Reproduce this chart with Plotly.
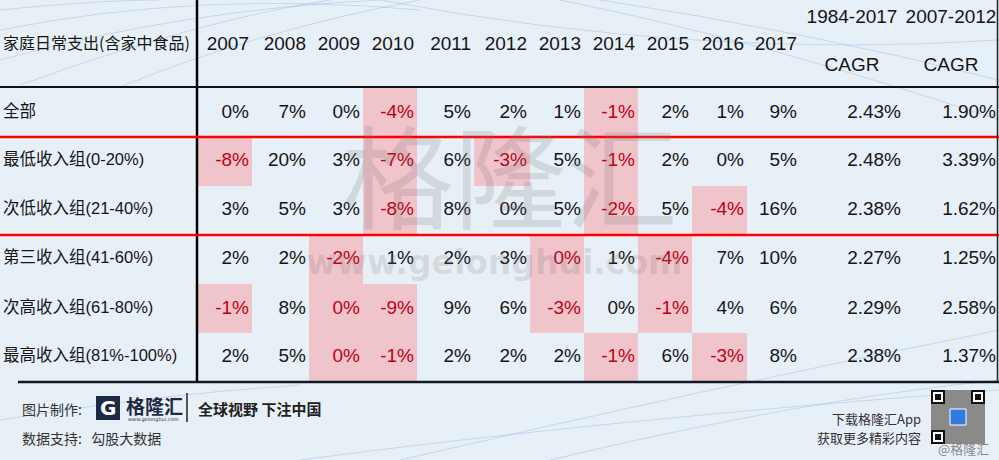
import plotly.graph_objects as go

# ---------------- data ----------------
header_label = "家庭日常支出(含家中食品)"
years = ["2007", "2008", "2009", "2010", "2011", "2012", "2013", "2014", "2015", "2016", "2017"]
cagr_periods = ["1984-2017", "2007-2012"]
cagr_label = "CAGR"
groups = ["全部", "最低收入组(0-20%)", "次低收入组(21-40%)", "第三收入组(41-60%)",
          "次高收入组(61-80%)", "最高收入组(81%-100%)"]

yoy_all = [0, 7, 0, -4, 5, 2, 1, -1, 2, 1, 9]
yoy_q1 = [-8, 20, 3, -7, 6, -3, 5, -1, 2, 0, 5]
yoy_q2 = [3, 5, 3, -8, 8, 0, 5, -2, 5, -4, 16]
yoy_q3 = [2, 2, -2, 1, 2, 3, 0, 1, -4, 7, 10]
yoy_q4 = [-1, 8, 0, -9, 9, 6, -3, 0, -1, 4, 6]
yoy_q5 = [2, 5, 0, -1, 2, 2, 2, -1, 6, -3, 8]

cagr_1984_2017 = [2.43, 2.48, 2.38, 2.27, 2.29, 2.38]
cagr_2007_2012 = [1.90, 3.39, 1.62, 1.25, 2.58, 1.37]

# cells flagged (pink) in the source
flag_all = [0, 0, 0, 1, 0, 0, 0, 1, 0, 0, 0]
flag_q1 = [1, 0, 0, 1, 0, 1, 0, 1, 0, 0, 0]
flag_q2 = [0, 0, 0, 1, 0, 0, 0, 1, 0, 1, 0]
flag_q3 = [0, 0, 1, 0, 0, 0, 1, 0, 1, 0, 0]
flag_q4 = [1, 0, 1, 1, 0, 0, 1, 0, 1, 0, 0]
flag_q5 = [0, 0, 1, 1, 0, 0, 0, 1, 0, 1, 0]

footer_make = "图片制作:"
footer_data = "数据支持:   勾股大数据"
brand = "格隆汇"
brand_url = "www.gelonghui.com"
slogan = "全球视野 下注中国"
app_line1 = "下载格隆汇App"
app_line2 = "获取更多精彩内容"
handle = "@格隆汇"

yoy_rows = [yoy_all, yoy_q1, yoy_q2, yoy_q3, yoy_q4, yoy_q5]
flag_rows = [flag_all, flag_q1, flag_q2, flag_q3, flag_q4, flag_q5]

# ---------------- layout constants ----------------
W, H = 999, 460
BG = "#e8f0f7"
PINK = "#f0c4cb"
RED_TXT = "#c00010"
BLACK_TXT = "#151515"
NUM_FONT = "Liberation Sans, Arial, Noto Sans CJK SC, sans-serif"
CJK_FONT = "Noto Sans CJK SC, sans-serif"
NUM_SIZE = 19

col_edges = [198, 252, 309, 363, 417, 474, 530, 584, 638, 692, 747, 800]  # year columns
cagr_right = [901, 996]
cagr_center = [852, 951]
row_edges = [87, 137, 186, 235, 284, 333, 382]
row_centers = [113, 161, 210, 259, 309, 357]
header_y = 45

fig = go.Figure()
shapes = []
annotations = []

# faint background swooshes
swoosh = [
    "M 0 30 Q 200 -10 420 10", "M 0 60 Q 180 10 380 0", "M 20 85 Q 200 20 330 0",
    "M 120 87 Q 260 30 420 0", "M 0 10 Q 100 0 160 0", "M 560 0 Q 760 40 999 120",
    "M 600 0 Q 800 30 999 80", "M 380 0 Q 700 60 999 40",
    "M 400 460 Q 700 390 999 330", "M 550 460 Q 800 400 999 380",
    "M 300 460 Q 600 420 999 390", "M 0 420 Q 150 395 300 385",
]
for p in swoosh:
    shapes.append(dict(type="path", path=p, line=dict(color="rgba(150,185,225,0.45)", width=1),
                       layer="below"))

# pink flagged cells
for r, flags in enumerate(flag_rows):
    for c, f in enumerate(flags):
        if f:
            shapes.append(dict(type="rect", x0=col_edges[c], x1=col_edges[c + 1],
                               y0=row_edges[r], y1=row_edges[r + 1],
                               fillcolor=PINK, line=dict(width=0), layer="below"))

# grid lines
shapes += [
    dict(type="line", x0=197, x1=197, y0=0, y1=383, line=dict(color="#000", width=2.5)),
    dict(type="line", x0=0, x1=999, y0=87, y1=87, line=dict(color="#111", width=2)),
    dict(type="line", x0=0, x1=999, y0=137, y1=137, line=dict(color="#ff0000", width=2.5)),
    dict(type="line", x0=0, x1=999, y0=235, y1=235, line=dict(color="#ff0000", width=2.5)),
    dict(type="line", x0=18, x1=999, y0=382, y1=382, line=dict(color="#111827", width=2.5)),
    dict(type="line", x0=997.5, x1=997.5, y0=0, y1=382, line=dict(color="#222", width=1.5)),
]

# header labels
fig.add_trace(go.Scatter(x=[3], y=[header_y], text=[header_label], mode="text",
                         textposition="middle right",
                         textfont=dict(family=CJK_FONT, size=16, color=BLACK_TXT),
                         hoverinfo="skip", showlegend=False))
fig.add_trace(go.Scatter(x=[e - 3 for e in col_edges[1:]], y=[header_y] * len(years), text=years,
                         mode="text", textposition="middle left",
                         textfont=dict(family=NUM_FONT, size=NUM_SIZE, color=BLACK_TXT),
                         hoverinfo="skip", showlegend=False))
fig.add_trace(go.Scatter(x=cagr_center, y=[18, 18], text=cagr_periods, mode="text",
                         textposition="middle center",
                         textfont=dict(family=NUM_FONT, size=NUM_SIZE, color=BLACK_TXT),
                         hoverinfo="skip", showlegend=False))
fig.add_trace(go.Scatter(x=cagr_center, y=[66, 66], text=[cagr_label, cagr_label], mode="text",
                         textposition="middle center",
                         textfont=dict(family=NUM_FONT, size=NUM_SIZE, color=BLACK_TXT),
                         hoverinfo="skip", showlegend=False))

# row labels
fig.add_trace(go.Scatter(x=[3] * len(groups), y=row_centers, text=groups, mode="text",
                         textposition="middle right",
                         textfont=dict(family=NUM_FONT, size=16.5, color=BLACK_TXT),
                         hoverinfo="skip", showlegend=False))

# yearly values, one trace per year column
for c in range(len(years)):
    vals = [row[c] for row in yoy_rows]
    cols = [RED_TXT if flag_rows[r][c] else BLACK_TXT for r in range(len(yoy_rows))]
    fig.add_trace(go.Scatter(x=[col_edges[c + 1] - 3] * len(vals), y=row_centers,
                             text=[f"{v}%" for v in vals], mode="text",
                             textposition="middle left",
                             textfont=dict(family=NUM_FONT, size=NUM_SIZE, color=cols),
                             hoverinfo="skip", showlegend=False))

# CAGR columns
for k, series in enumerate([cagr_1984_2017, cagr_2007_2012]):
    fig.add_trace(go.Scatter(x=[cagr_right[k]] * len(series), y=row_centers,
                             text=[f"{v:.2f}%" for v in series], mode="text",
                             textposition="middle left",
                             textfont=dict(family=NUM_FONT, size=NUM_SIZE, color=BLACK_TXT),
                             hoverinfo="skip", showlegend=False))

# watermark
annotations.append(dict(x=510, y=172, text=brand, showarrow=False, xanchor="center", yanchor="middle",
                        font=dict(family=CJK_FONT, size=112, color="rgba(120,120,120,0.2)")))
annotations.append(dict(x=494, y=262, text=f"<b>{brand_url}</b>", showarrow=False,
                        xanchor="center", yanchor="middle",
                        font=dict(family="DejaVu Sans, sans-serif", size=33,
                                  color="rgba(120,120,120,0.2)")))

# footer
annotations += [
    dict(x=20, y=409, text=footer_make, showarrow=False, xanchor="left", yanchor="middle",
         font=dict(family=CJK_FONT, size=14, color="#333")),
    dict(x=20, y=438, text=footer_data, showarrow=False, xanchor="left", yanchor="middle",
         font=dict(family=CJK_FONT, size=14, color="#333")),
    dict(x=124, y=405, text=f"<b>{brand}</b>", showarrow=False, xanchor="left", yanchor="middle",
         font=dict(family=CJK_FONT, size=19, color="#1d2a44")),
    dict(x=126, y=419, text=brand_url, showarrow=False, xanchor="left", yanchor="middle",
         font=dict(family="DejaVu Sans, sans-serif", size=5, color="#333")),
    dict(x=196, y=408, text=f"<b>{slogan}</b>", showarrow=False, xanchor="left", yanchor="middle",
         font=dict(family=CJK_FONT, size=15, color="#222")),
    dict(x=923, y=418, text=app_line1, showarrow=False, xanchor="right", yanchor="middle",
         font=dict(family=CJK_FONT, size=13, color="#333")),
    dict(x=923, y=437, text=app_line2, showarrow=False, xanchor="right", yanchor="middle",
         font=dict(family=CJK_FONT, size=13, color="#333")),
    dict(x=108, y=408, text="<b>G</b>", showarrow=False, xanchor="center", yanchor="middle",
         font=dict(family="DejaVu Sans, sans-serif", size=20, color="#ffffff")),
    dict(x=991, y=448, text=handle, showarrow=False, xanchor="right", yanchor="middle",
         font=dict(family=CJK_FONT, size=13, color="rgba(110,110,110,0.8)")),
]
# logo box & separator
shapes += [
    dict(type="rect", x0=96, x1=120, y0=396, y1=420, fillcolor="#1d2a44", line=dict(width=0)),
    dict(type="line", x0=187, x1=187, y0=393, y1=422, line=dict(color="#222", width=1.5)),
]
# QR-like block
shapes.append(dict(type="rect", x0=931, x1=985, y0=390, y1=444, fillcolor="#8a8a8a",
                   line=dict(width=0)))
for (qx, qy) in [(931, 390), (971, 390), (931, 430)]:
    shapes.append(dict(type="rect", x0=qx, x1=qx + 14, y0=qy, y1=qy + 14, fillcolor="#111",
                       line=dict(width=0)))
    shapes.append(dict(type="rect", x0=qx + 2, x1=qx + 12, y0=qy + 2, y1=qy + 12, fillcolor="#fff",
                       line=dict(width=0)))
    shapes.append(dict(type="rect", x0=qx + 4, x1=qx + 10, y0=qy + 4, y1=qy + 10, fillcolor="#111",
                       line=dict(width=0)))
shapes.append(dict(type="rect", x0=950, x1=966, y0=409, y1=425, fillcolor="#2f7be0",
                   line=dict(color="#fff", width=1)))

fig.update_layout(
    width=W, height=H, margin=dict(l=0, r=0, t=0, b=0),
    paper_bgcolor=BG, plot_bgcolor=BG,
    xaxis=dict(range=[0, W], visible=False, fixedrange=True),
    yaxis=dict(range=[H, 0], visible=False, fixedrange=True),
    shapes=shapes, annotations=annotations, showlegend=False,
)
fig.write_html("out.html", config={"displayModeBar": False},
               post_script="document.body.style.margin='0px';document.body.style.background='" + BG + "';")
